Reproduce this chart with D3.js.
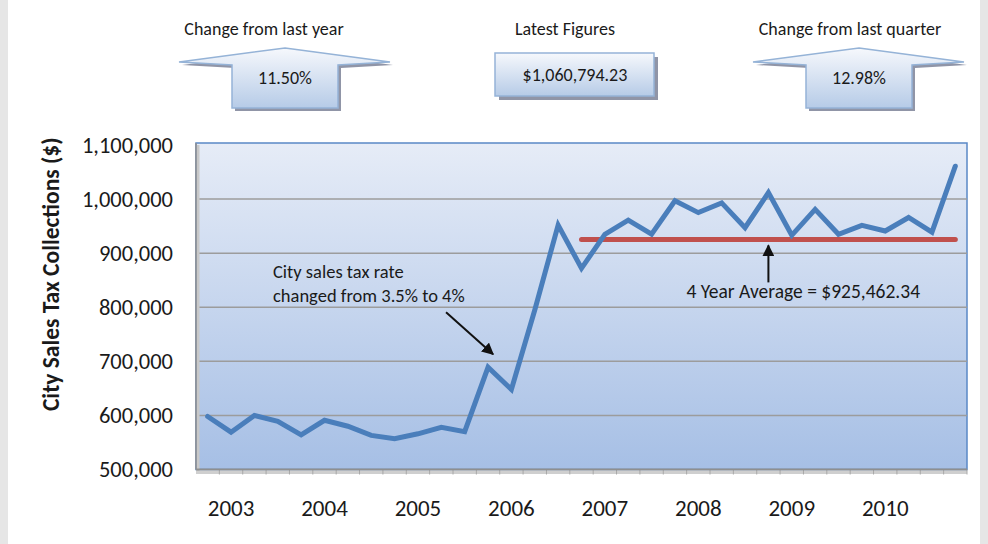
<!DOCTYPE html>
<html>
<head>
<meta charset="utf-8">
<script src="https://cdn.jsdelivr.net/npm/d3@7"></script>
<style>
  html, body { margin: 0; padding: 0; background: #e6e6e6; }
  svg { display: block; }
  text { font-family: Carlito, Lato, "Open Sans", sans-serif; fill: #1a1a1a; }
</style>
</head>
<body>
<svg id="chart"></svg>
<script>
// quarterly city sales tax collections
const quarters = [
  "2002 Q4",
  "2003 Q1", "2003 Q2", "2003 Q3", "2003 Q4",
  "2004 Q1", "2004 Q2", "2004 Q3", "2004 Q4",
  "2005 Q1", "2005 Q2", "2005 Q3", "2005 Q4",
  "2006 Q1", "2006 Q2", "2006 Q3", "2006 Q4",
  "2007 Q1", "2007 Q2", "2007 Q3", "2007 Q4",
  "2008 Q1", "2008 Q2", "2008 Q3", "2008 Q4",
  "2009 Q1", "2009 Q2", "2009 Q3", "2009 Q4",
  "2010 Q1", "2010 Q2", "2010 Q3", "2010 Q4"
];
const collections = [
  598000,
  569000, 600000, 589000, 564000,
  591000, 580000, 563000, 557000,
  566000, 578000, 570000, 689000,
  648000, 795000, 952000, 872000,
  935000, 961000, 935000, 997000,
  975000, 993000, 947000, 1012000,
  933000, 981000, 935000, 951385,
  941000, 966000, 938919, 1060794.23
];
const yTicks = [500000, 600000, 700000, 800000, 900000, 1000000, 1100000];
const yearLabels = ["2003", "2004", "2005", "2006", "2007", "2008", "2009", "2010"];

const avgValue = 925462.34;
const avgStart = "2006 Q4";
const avgEnd = "2010 Q4";
const avgPointer = "2008 Q4";
const rateChangeAt = "2005 Q4";

const summaryTitles = ["Change from last year", "Latest Figures", "Change from last quarter"];
const summaryValues = ["11.50%", "$1,060,794.23", "12.98%"];

const width = 988, height = 544;
const margin = { top: 145, right: 21, bottom: 75, left: 196 };

const svg = d3.select("#chart").attr("width", width).attr("height", height);
const defs = svg.append("defs");

// white page with grey side strips
svg.append("rect").attr("x", 8).attr("y", 0).attr("width", 972).attr("height", height).attr("fill", "#fff");

const plotGrad = defs.append("linearGradient").attr("id", "plotBg").attr("x1", 0).attr("y1", 0).attr("x2", 0).attr("y2", 1);
plotGrad.append("stop").attr("offset", "0%").attr("stop-color", "#e6ecf7");
plotGrad.append("stop").attr("offset", "100%").attr("stop-color", "#a6bfe5");

const boxGrad = defs.append("linearGradient").attr("id", "boxBg").attr("x1", 0).attr("y1", 0).attr("x2", 0).attr("y2", 1);
boxGrad.append("stop").attr("offset", "0%").attr("stop-color", "#f6f8fc");
boxGrad.append("stop").attr("offset", "100%").attr("stop-color", "#b6cbe7");

defs.append("marker").attr("id", "arrowHead")
  .attr("viewBox", "0 0 10 10").attr("refX", 9).attr("refY", 5)
  .attr("markerWidth", 6).attr("markerHeight", 6).attr("orient", "auto-start-reverse")
  .attr("markerUnits", "strokeWidth")
  .append("path").attr("d", "M0,0 L10,5 L0,10 Z").attr("fill", "#111");

const x = d3.scaleBand()
  .domain(quarters)
  .range([margin.left, width - margin.right]);

const y = d3.scaleLinear()
  .domain([500000, 1100000])
  .range([height - margin.bottom + 0.5, margin.top]);

const cx = q => x(q) + x.bandwidth() / 2;

// plot area
svg.append("rect")
  .attr("x", margin.left).attr("y", y(1100000) - 2)
  .attr("width", x.range()[1] - margin.left).attr("height", y(500000) - y(1100000) + 2)
  .attr("fill", "url(#plotBg)")
  .attr("stroke", "#5a88c6").attr("stroke-width", 1.5);

// gridlines
svg.append("g")
  .selectAll("line")
  .data(yTicks.slice(1, -1))
  .join("line")
  .attr("x1", margin.left).attr("x2", x.range()[1])
  .attr("y1", d => y(d)).attr("y2", d => y(d))
  .attr("stroke", "#9c9c9c").attr("stroke-width", 1.5);

// left axis line with a soft shadow
svg.append("line")
  .attr("x1", margin.left + 2).attr("x2", margin.left + 2)
  .attr("y1", y(1100000)).attr("y2", y(500000) + 3)
  .attr("stroke", "#c8c8c8").attr("stroke-width", 3);
svg.append("line")
  .attr("x1", margin.left).attr("x2", margin.left)
  .attr("y1", y(1100000) - 2).attr("y2", y(500000))
  .attr("stroke", "#8f8f8f").attr("stroke-width", 1.5);

// y axis
const yAxis = svg.append("g")
  .attr("transform", `translate(${margin.left},0)`)
  .call(d3.axisLeft(y).tickValues(yTicks).tickFormat(d3.format(",")).tickSize(0).tickPadding(23));
yAxis.select(".domain").remove();
yAxis.selectAll("text")
  .style("font-size", "22.5px")
  .style("font-family", "Carlito, Lato, sans-serif")
  .attr("fill", "#1a1a1a");

// bottom axis: shadow, line and quarter tick marks
svg.append("line")
  .attr("x1", margin.left).attr("x2", x.range()[1])
  .attr("y1", y(500000) + 3).attr("y2", y(500000) + 3)
  .attr("stroke", "#cfcfcf").attr("stroke-width", 3);
svg.append("g")
  .selectAll("line")
  .data(quarters.slice(1).concat(["end"]))
  .join("line")
  .attr("x1", (d, i) => margin.left + (i + 1) * x.bandwidth())
  .attr("x2", (d, i) => margin.left + (i + 1) * x.bandwidth())
  .attr("y1", y(500000)).attr("y2", y(500000) + 5)
  .attr("stroke", "#a8a8a8").attr("stroke-width", 1);
svg.append("line")
  .attr("x1", margin.left).attr("x2", x.range()[1])
  .attr("y1", y(500000)).attr("y2", y(500000))
  .attr("stroke", "#8f8f8f").attr("stroke-width", 2);

const xAxis = svg.append("g")
  .attr("transform", `translate(0,${y(500000)})`)
  .call(d3.axisBottom(x)
    .tickValues(yearLabels.map(yr => yr + " Q1"))
    .tickFormat(q => q.slice(0, 4))
    .tickSize(0).tickPadding(30));
xAxis.select(".domain").remove();
xAxis.selectAll("text")
  .style("font-size", "23px")
  .style("font-family", "Carlito, Lato, sans-serif")
  .attr("fill", "#1a1a1a");

// y axis title
svg.append("text")
  .attr("transform", `translate(59,${(y(1100000) + y(500000)) / 2 - 33}) rotate(-90)`)
  .attr("text-anchor", "middle")
  .style("font-size", "23.5px").style("font-weight", "bold")
  .text("City Sales Tax Collections ($)");

// four-year average line
svg.append("line")
  .attr("x1", cx(avgStart)).attr("x2", cx(avgEnd))
  .attr("y1", y(avgValue)).attr("y2", y(avgValue))
  .attr("stroke", "#c0504d").attr("stroke-width", 5).attr("stroke-linecap", "round");

// collections line
const line = d3.line()
  .x((d, i) => cx(quarters[i]))
  .y(d => y(d));
svg.append("path")
  .datum(collections)
  .attr("d", line)
  .attr("fill", "none")
  .attr("stroke", "#4a7ebb").attr("stroke-width", 5)
  .attr("stroke-linejoin", "miter").attr("stroke-linecap", "round");

// annotation: average
svg.append("line")
  .attr("x1", cx(avgPointer)).attr("x2", cx(avgPointer))
  .attr("y1", y(avgValue) + 43).attr("y2", y(avgValue) + 6)
  .attr("stroke", "#111").attr("stroke-width", 2)
  .attr("marker-end", "url(#arrowHead)");
svg.append("text")
  .attr("x", cx(avgPointer) - 82).attr("y", y(avgValue) + 59)
  .style("font-size", "19.5px")
  .text(`4 Year Average = $${d3.format(",.2f")(avgValue)}`);

// annotation: tax rate change
const rcx = cx(rateChangeAt), rcy = y(collections[quarters.indexOf(rateChangeAt)]);
svg.append("line")
  .attr("x1", rcx - 42).attr("y1", rcy - 55)
  .attr("x2", rcx + 5).attr("y2", rcy - 13)
  .attr("stroke", "#111").attr("stroke-width", 2)
  .attr("marker-end", "url(#arrowHead)");
svg.append("text")
  .attr("x", 273).attr("y", 278)
  .style("font-size", "18.5px")
  .selectAll("tspan")
  .data(["City sales tax rate", "changed from 3.5% to 4%"])
  .join("tspan")
  .attr("x", 273).attr("dy", (d, i) => i === 0 ? 0 : 24)
  .text(d => d);

// summary panel across the top
const arrowPath = (c) => [
  [c, 48], [c + 105, 62], [c + 53, 65], [c + 53, 108],
  [c - 53, 108], [c - 53, 65], [c - 106, 62]
];
const panels = [
  { kind: "arrow", cx: 285, titleX: 264 },
  { kind: "box", cx: 575, titleX: 565 },
  { kind: "arrow", cx: 859, titleX: 850 }
];

panels.forEach((p, i) => {
  const g = svg.append("g");
  if (p.kind === "arrow") {
    const pts = arrowPath(p.cx);
    g.append("path")
      .attr("d", d3.line()(pts) + "Z")
      .attr("transform", "translate(3,3)")
      .attr("fill", "#7c8398").attr("opacity", 0.85);
    g.append("path")
      .attr("d", d3.line()(pts) + "Z")
      .attr("fill", "url(#boxBg)")
      .attr("stroke", "#95b3d7").attr("stroke-width", 1.5);
    g.append("text")
      .attr("x", p.cx).attr("y", 84)
      .attr("text-anchor", "middle")
      .style("font-size", "18px")
      .text(summaryValues[i]);
  } else {
    g.append("rect")
      .attr("x", p.cx - 76).attr("y", 57).attr("width", 159).attr("height", 43)
      .attr("fill", "#7c8398").attr("opacity", 0.85);
    g.append("rect")
      .attr("x", p.cx - 80).attr("y", 53).attr("width", 159).attr("height", 43)
      .attr("fill", "url(#boxBg)")
      .attr("stroke", "#95b3d7").attr("stroke-width", 1.5);
    g.append("text")
      .attr("x", p.cx).attr("y", 81)
      .attr("text-anchor", "middle")
      .style("font-size", "18px")
      .text(summaryValues[i]);
  }
  g.append("text")
    .attr("x", p.titleX).attr("y", 35)
    .attr("text-anchor", "middle")
    .style("font-size", "18px")
    .text(summaryTitles[i]);
});
</script>
</body>
</html>
